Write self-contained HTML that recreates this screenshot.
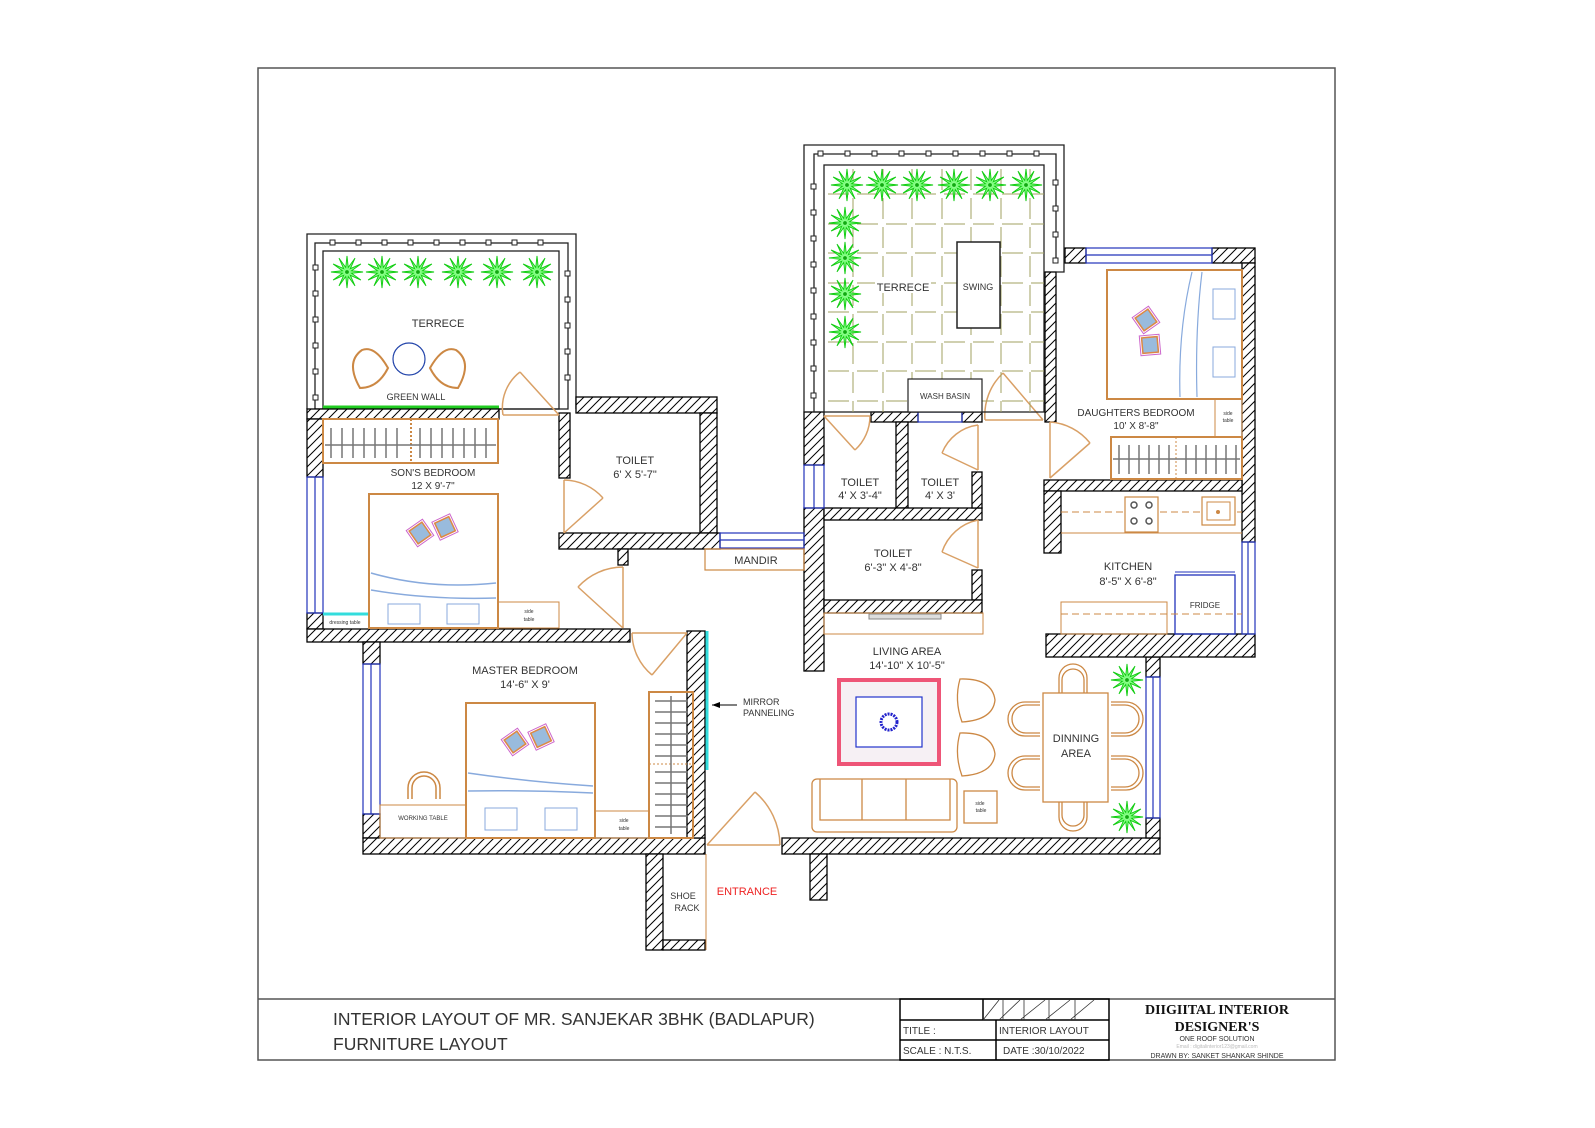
<!DOCTYPE html>
<html><head><meta charset="utf-8"><style>
html,body{margin:0;padding:0;background:#fff;}
svg{display:block;}
text{font-family:"Liberation Sans",sans-serif;fill:#333;}
</style></head><body>
<svg width="1595" height="1128" viewBox="0 0 1595 1128" xmlns="http://www.w3.org/2000/svg">
<defs>
<pattern id="h" patternUnits="userSpaceOnUse" width="9" height="9"><rect width="9" height="9" fill="#fff"/><path d="M-1,10 L10,-1 M-2,2 L2,-2 M7,11 L11,7" stroke="#000" stroke-width="1"/></pattern>
<symbol id="pl" viewBox="-18 -18 36 36" overflow="visible"><polygon points="17,0 4.8,1.3 14.7,8.5 3.5,3.5 8.5,14.7 1.3,4.8 0,17 -1.3,4.8 -8.5,14.7 -3.5,3.5 -14.7,8.5 -4.8,1.3 -17,0 -4.8,-1.3 -14.7,-8.5 -3.5,-3.5 -8.5,-14.7 -1.3,-4.8 0,-17 1.3,-4.8 8.5,-14.7 3.5,-3.5 14.7,-8.5 4.8,-1.3" fill="#8f8" stroke="#1c1" stroke-width="1"/><circle r="2" fill="#1a1"/></symbol>
<g id="pil"><polygon points="0,-14 14,0 0,14 -14,0" fill="none" stroke="#c6c" stroke-width="1"/><polygon points="0,-11 11,0 0,11 -11,0" fill="#9bd" stroke="#d84" stroke-width="1.5"/></g>
</defs>
<g fill="none" stroke="#555" stroke-width="1.5">
<rect x="258" y="68" width="1077" height="992"/>
<line x1="258" y1="999" x2="1335" y2="999"/>
</g>
<g stroke="#000" stroke-width="1.5" fill="none">
<rect x="900" y="999" width="209" height="61"/>
<line x1="900" y1="1020" x2="1109" y2="1020"/><line x1="900" y1="1040" x2="1109" y2="1040"/>
<line x1="996" y1="1020" x2="996" y2="1060"/><line x1="983" y1="999" x2="983" y2="1020"/>
</g>
<g stroke="#333" stroke-width="0.8"><path d="M983,1020 L999,1000 M1003,1000 L1003,1020 M999,1020 L1020,1000 M1024,1000 L1024,1020 M1020,1020 L1045,1000 M1049,1000 L1049,1020 M1045,1020 L1070,1000 M1075,1000 L1075,1020 M1070,1020 L1094,1000"/></g>
<text x="333" y="1025" font-size="17.5">INTERIOR LAYOUT OF MR. SANJEKAR 3BHK (BADLAPUR)</text>
<text x="333" y="1050" font-size="17.5">FURNITURE LAYOUT</text>
<text x="903" y="1034" font-size="10">TITLE :</text>
<text x="999" y="1034" font-size="10">INTERIOR LAYOUT</text>
<text x="903" y="1054" font-size="10">SCALE :  N.T.S.</text>
<text x="1003" y="1054" font-size="10">DATE  :30/10/2022</text>
<text x="1217" y="1014" font-size="14" font-weight="bold" text-anchor="middle" style="font-family:'Liberation Serif',serif;fill:#111">DIIGIITAL INTERIOR</text>
<text x="1217" y="1031" font-size="14" font-weight="bold" text-anchor="middle" style="font-family:'Liberation Serif',serif;fill:#111">DESIGNER'S</text>
<text x="1217" y="1041" font-size="7" text-anchor="middle">ONE ROOF SOLUTION</text>
<text x="1217" y="1048" font-size="5" text-anchor="middle" style="fill:#bbb">Email : digitalinterior123@gmail.com</text>
<text x="1217" y="1058" font-size="7" text-anchor="middle">DRAWN BY: SANKET SHANKAR SHINDE</text>

<g fill="none" stroke="#222" stroke-width="1.3">
<polyline points="307,409 307,234 576,234 576,409"/>
<rect x="315" y="243" width="253" height="166"/>
<rect x="323" y="251" width="236" height="158"/>
</g>
<g fill="#fff" stroke="#222" stroke-width="1">
<rect x="330" y="240" width="5" height="5"/><rect x="356" y="240" width="5" height="5"/><rect x="382" y="240" width="5" height="5"/><rect x="408" y="240" width="5" height="5"/><rect x="434" y="240" width="5" height="5"/><rect x="460" y="240" width="5" height="5"/><rect x="486" y="240" width="5" height="5"/><rect x="512" y="240" width="5" height="5"/><rect x="538" y="240" width="5" height="5"/>
<rect x="313" y="265" width="5" height="5"/><rect x="313" y="291" width="5" height="5"/><rect x="313" y="317" width="5" height="5"/><rect x="313" y="343" width="5" height="5"/><rect x="313" y="369" width="5" height="5"/><rect x="313" y="395" width="5" height="5"/>
<rect x="565" y="271" width="5" height="5"/><rect x="565" y="297" width="5" height="5"/><rect x="565" y="323" width="5" height="5"/><rect x="565" y="349" width="5" height="5"/><rect x="565" y="375" width="5" height="5"/>
</g>
<use href="#pl" x="330" y="255" width="34" height="34"/><use href="#pl" x="365" y="255" width="34" height="34"/><use href="#pl" x="401" y="255" width="34" height="34"/><use href="#pl" x="441" y="255" width="34" height="34"/><use href="#pl" x="480" y="255" width="34" height="34"/><use href="#pl" x="520" y="255" width="34" height="34"/>
<text x="438" y="327" font-size="11" text-anchor="middle">TERRECE</text>
<circle cx="409" cy="359" r="16" fill="none" stroke="#24a" stroke-width="1.2"/>
<path d="M360,388 Q345,362 362,350 Q375,345 388,368 Q378,388 360,388Z" fill="none" stroke="#c84" stroke-width="2"/>
<path d="M458,388 Q473,362 456,350 Q443,345 430,368 Q440,388 458,388Z" fill="none" stroke="#c84" stroke-width="2"/>
<text x="416" y="400" font-size="9" text-anchor="middle">GREEN WALL</text>
<line x1="323" y1="407" x2="499" y2="407" stroke="#2c2" stroke-width="3"/>

<g fill="url(#h)" stroke="#000" stroke-width="1.3">
<rect x="307" y="409" width="192" height="10"/>
<rect x="307" y="419" width="16" height="58"/>
<rect x="307" y="613" width="16" height="16"/>
<rect x="307" y="629" width="323" height="13"/>
<rect x="559" y="413" width="11" height="65"/>
<rect x="576" y="397" width="141" height="16"/>
<rect x="700" y="413" width="17" height="120"/>
<rect x="559" y="533" width="161" height="16"/>
<rect x="618" y="549" width="10" height="16"/>
<rect x="363" y="642" width="17" height="22"/>
<rect x="363" y="814" width="17" height="24"/>
<rect x="363" y="838" width="342" height="16"/>
<rect x="687" y="631" width="18" height="207"/>
<rect x="646" y="854" width="17" height="96"/>
<rect x="663" y="940" width="42" height="10"/>
<rect x="782" y="838" width="378" height="16"/>
<rect x="810" y="854" width="17" height="46"/>
<rect x="1146" y="657" width="14" height="20"/>
<rect x="1146" y="818" width="14" height="20"/>
<rect x="804" y="412" width="20" height="53"/>
<rect x="804" y="508" width="20" height="163"/>
<rect x="1045" y="272" width="11" height="150"/>
<rect x="871" y="412" width="47" height="10"/>
<rect x="962" y="412" width="20" height="10"/>
<rect x="896" y="422" width="12" height="86"/>
<rect x="824" y="508" width="158" height="12"/>
<rect x="972" y="472" width="10" height="36"/>
<rect x="972" y="570" width="10" height="30"/>
<rect x="824" y="600" width="158" height="13"/>
<rect x="1065" y="248" width="21" height="15"/>
<rect x="1212" y="248" width="43" height="15"/>
<rect x="1242" y="263" width="13" height="279"/>
<rect x="1044" y="480" width="198" height="11"/>
<rect x="1044" y="491" width="17" height="62"/>
<rect x="1046" y="634" width="209" height="23"/>
</g>
<g stroke="#23b" stroke-width="1.2" fill="none">
<rect x="307" y="477" width="16" height="136"/><line x1="315" y1="477" x2="315" y2="613"/>
<rect x="363" y="664" width="17" height="150"/><line x1="371" y1="664" x2="371" y2="814"/>
<rect x="720" y="533" width="84" height="15"/><line x1="720" y1="540" x2="804" y2="540"/>
<rect x="804" y="465" width="20" height="43"/><line x1="814" y1="465" x2="814" y2="508"/>
<rect x="918" y="412" width="44" height="10"/>
<rect x="1086" y="248" width="126" height="15"/><line x1="1086" y1="255" x2="1212" y2="255"/>
<rect x="1242" y="542" width="13" height="92"/><line x1="1248" y1="542" x2="1248" y2="634"/>
<rect x="1146" y="677" width="14" height="141"/><line x1="1153" y1="677" x2="1153" y2="818"/>
</g>
<line x1="323" y1="614" x2="369" y2="614" stroke="#3dd" stroke-width="3"/>
<line x1="707" y1="631" x2="707" y2="770" stroke="#3dd" stroke-width="3"/>

<rect x="323" y="419" width="175" height="44" fill="none" stroke="#c84" stroke-width="2"/>
<line x1="411" y1="419" x2="411" y2="463" stroke="#c84" stroke-width="2" stroke-dasharray="2 2"/>
<g stroke="#777" stroke-width="1.5"><path d="M331,428V458M342,428V458M353,428V458M364,428V458M375,428V458M386,428V458M397,428V458M420,428V458M431,428V458M442,428V458M453,428V458M464,428V458M475,428V458M486,428V458M325,445H496"/></g>
<text x="433" y="476" font-size="10" text-anchor="middle">SON'S BEDROOM</text>
<text x="433" y="489" font-size="10" text-anchor="middle">12 X 9'-7"</text>
<rect x="369" y="494" width="129" height="134" fill="none" stroke="#c84" stroke-width="2"/>
<path d="M371,573 Q430,590 496,583 M371,590 Q430,600 496,598" stroke="#8ad" fill="none" stroke-width="1.5"/>
<rect x="388" y="604" width="32" height="20" fill="none" stroke="#8ad"/><rect x="447" y="604" width="32" height="20" fill="none" stroke="#8ad"/>
<use href="#pil" transform="translate(420,533) rotate(10)"/><use href="#pil" transform="translate(445,527) rotate(20)"/>
<rect x="498" y="602" width="61" height="26" fill="none" stroke="#c84"/>
<text x="529" y="613" font-size="5" text-anchor="middle">side</text><text x="529" y="621" font-size="5" text-anchor="middle">table</text>
<text x="345" y="624" font-size="5" text-anchor="middle">dressing table</text>

<text x="635" y="464" font-size="11" text-anchor="middle">TOILET</text>
<text x="635" y="478" font-size="11" text-anchor="middle">6' X 5'-7"</text>
<text x="756" y="564" font-size="11" text-anchor="middle">MANDIR</text>
<rect x="705" y="549" width="99" height="21" fill="none" stroke="#c84" stroke-width="1.2"/>

<g stroke="#d9a066" stroke-width="1.5" fill="none">
<path d="M503,415 H559 M559,415 L520,372 M520,372 A45,45 0 0 0 503,415"/>
<path d="M564,533 V480 M564,533 L603,498 M603,498 A53,53 0 0 0 564,480"/>
<path d="M623,628 V567 M623,628 L578,587 M578,587 A61,61 0 0 1 623,567"/>
<path d="M632,633 H687 M687,633 L652,675 M652,675 A55,55 0 0 1 632,633"/>
<path d="M707,845 H780 M707,845 L755,792 M755,792 A72,72 0 0 1 780,845"/>
<path d="M824,416 H870 M824,416 L855,450 M855,450 A46,46 0 0 0 870,416"/>
<path d="M978,470 V425 M978,470 L942,453 M942,453 A45,45 0 0 1 978,425"/>
<path d="M978,568 V520 M978,568 L942,552 M942,552 A48,48 0 0 1 978,520"/>
<path d="M985,420 H1043 M1043,420 L1003,373 M1003,373 A58,58 0 0 0 985,420"/>
<path d="M1050,478 V422 M1050,478 L1090,443 M1090,443 A56,56 0 0 0 1050,422"/>
</g>

<text x="525" y="674" font-size="11" text-anchor="middle">MASTER BEDROOM</text>
<text x="525" y="688" font-size="11" text-anchor="middle">14'-6" X 9'</text>
<rect x="466" y="703" width="129" height="135" fill="none" stroke="#c84" stroke-width="2"/>
<path d="M468,773 Q530,782 593,786 M468,791 Q530,790 593,793" stroke="#8ad" fill="none" stroke-width="1.5"/>
<rect x="485" y="808" width="32" height="22" fill="none" stroke="#8ad"/><rect x="545" y="808" width="32" height="22" fill="none" stroke="#8ad"/>
<use href="#pil" transform="translate(515,742) rotate(10)"/><use href="#pil" transform="translate(541,737) rotate(20)"/>
<rect x="380" y="805" width="86" height="33" fill="none" stroke="#c84"/>
<text x="423" y="820" font-size="6" text-anchor="middle">WORKING TABLE</text>
<path d="M408,799 V788 A16,16 0 0 1 440,788 V799 M412,799 V788 A12,12 0 0 1 436,788 V799" stroke="#c84" fill="none" stroke-width="1.5"/>
<rect x="595" y="811" width="54" height="27" fill="none" stroke="#c84"/>
<text x="624" y="822" font-size="5" text-anchor="middle">side</text><text x="624" y="830" font-size="5" text-anchor="middle">table</text>
<rect x="649" y="692" width="44" height="146" fill="none" stroke="#c84" stroke-width="2"/>
<line x1="649" y1="764" x2="693" y2="764" stroke="#c84" stroke-dasharray="2 2"/>
<g stroke="#777" stroke-width="1.5"><path d="M671,696V834M655,701H688M655,712H688M655,723H688M655,734H688M655,745H688M655,756H688M655,772H688M655,783H688M655,794H688M655,805H688M655,816H688M655,827H688"/></g>
<text x="743" y="705" font-size="9">MIRROR</text><text x="743" y="716" font-size="9">PANNELING</text>
<path d="M712,705 H737" stroke="#000" stroke-width="1"/><polygon points="712,705 720,702 720,708" fill="#000"/>
<text x="683" y="899" font-size="9" text-anchor="middle">SHOE</text><text x="687" y="911" font-size="9" text-anchor="middle">RACK</text>
<line x1="706" y1="854" x2="706" y2="950" stroke="#c84"/>
<text x="747" y="895" font-size="11" text-anchor="middle" style="fill:#e22">ENTRANCE</text>

<g fill="none" stroke="#222" stroke-width="1.3">
<polyline points="804,412 804,145 1064,145 1064,272 1056,272"/>
<polyline points="814,412 814,154 1056,154 1056,262"/>
<rect x="824" y="165" width="220" height="247"/>
</g>
<g stroke="#a0a060" stroke-width="1" stroke-dasharray="21 8" stroke-dashoffset="-4">
<path d="M853,165V412M883,165V412M912,165V412M942,165V412M971,165V412M1001,165V412M1030,165V412"/>
<path d="M824,194H1044M824,224H1044M824,253H1044M824,283H1044M824,312H1044M824,342H1044M824,371H1044M824,401H1044"/>
</g>
<g fill="#fff" stroke="#222" stroke-width="1">
<rect x="818" y="151" width="5" height="5"/><rect x="845" y="151" width="5" height="5"/><rect x="872" y="151" width="5" height="5"/><rect x="899" y="151" width="5" height="5"/><rect x="926" y="151" width="5" height="5"/><rect x="953" y="151" width="5" height="5"/><rect x="980" y="151" width="5" height="5"/><rect x="1007" y="151" width="5" height="5"/><rect x="1034" y="151" width="5" height="5"/>
<rect x="811" y="184" width="5" height="5"/><rect x="811" y="210" width="5" height="5"/><rect x="811" y="236" width="5" height="5"/><rect x="811" y="262" width="5" height="5"/><rect x="811" y="288" width="5" height="5"/><rect x="811" y="314" width="5" height="5"/><rect x="811" y="340" width="5" height="5"/><rect x="811" y="366" width="5" height="5"/><rect x="811" y="393" width="5" height="5"/>
<rect x="1053" y="180" width="5" height="5"/><rect x="1053" y="206" width="5" height="5"/><rect x="1053" y="232" width="5" height="5"/><rect x="1053" y="258" width="5" height="5"/>
</g>
<use href="#pl" x="830" y="168" width="34" height="34"/><use href="#pl" x="865" y="168" width="34" height="34"/><use href="#pl" x="900" y="168" width="34" height="34"/><use href="#pl" x="937" y="168" width="34" height="34"/><use href="#pl" x="973" y="168" width="34" height="34"/><use href="#pl" x="1009" y="168" width="34" height="34"/>
<use href="#pl" x="828" y="206" width="34" height="34"/><use href="#pl" x="828" y="241" width="34" height="34"/><use href="#pl" x="828" y="277" width="34" height="34"/><use href="#pl" x="828" y="315" width="34" height="34"/>
<rect x="957" y="242" width="43" height="86" fill="#fff" stroke="#222" stroke-width="1.5"/>
<text x="978" y="290" font-size="9" text-anchor="middle">SWING</text>
<rect x="875" y="281" width="56" height="12" fill="#fff"/>
<text x="903" y="291" font-size="11" text-anchor="middle">TERRECE</text>
<rect x="908" y="379" width="74" height="33" fill="#fff" stroke="#222" stroke-width="1.2"/>
<text x="945" y="399" font-size="8" text-anchor="middle">WASH BASIN</text>

<text x="860" y="486" font-size="11" text-anchor="middle">TOILET</text><text x="860" y="499" font-size="11" text-anchor="middle">4' X 3'-4"</text>
<text x="940" y="486" font-size="11" text-anchor="middle">TOILET</text><text x="940" y="499" font-size="11" text-anchor="middle">4' X 3'</text>
<text x="893" y="557" font-size="11" text-anchor="middle">TOILET</text><text x="893" y="571" font-size="11" text-anchor="middle">6'-3" X 4'-8"</text>

<rect x="1107" y="270" width="135" height="129" fill="none" stroke="#c84" stroke-width="2"/>
<path d="M1192,272 Q1178,330 1180,397 M1202,272 Q1195,330 1197,397" stroke="#8ad" fill="none" stroke-width="1.2"/>
<rect x="1213" y="289" width="22" height="30" fill="none" stroke="#8ad"/><rect x="1213" y="347" width="22" height="30" fill="none" stroke="#8ad"/>
<use href="#pil" transform="translate(1146,320) rotate(10)"/><use href="#pil" transform="translate(1150,345) rotate(40)"/>
<rect x="1215" y="399" width="27" height="38" fill="none" stroke="#c84"/>
<text x="1228" y="415" font-size="5" text-anchor="middle">side</text><text x="1228" y="422" font-size="5" text-anchor="middle">table</text>
<text x="1136" y="416" font-size="10" text-anchor="middle">DAUGHTERS BEDROOM</text>
<text x="1136" y="429" font-size="10" text-anchor="middle">10' X 8'-8"</text>
<rect x="1111" y="437" width="131" height="42" fill="none" stroke="#c84" stroke-width="2"/>
<line x1="1176" y1="437" x2="1176" y2="479" stroke="#c84" stroke-dasharray="2 2"/>
<g stroke="#777" stroke-width="1.5"><path d="M1119,445V474M1129,445V474M1139,445V474M1149,445V474M1159,445V474M1169,445V474M1186,445V474M1196,445V474M1206,445V474M1216,445V474M1226,445V474M1236,445V474M1113,459H1240"/></g>

<line x1="1061" y1="533" x2="1242" y2="533" stroke="#c84"/>
<line x1="1061" y1="512" x2="1242" y2="512" stroke="#c84" stroke-dasharray="7 4"/>
<rect x="1125" y="497" width="33" height="35" fill="#fff" stroke="#c84" stroke-width="1.2"/>
<g fill="none" stroke="#555" stroke-width="1.5"><circle cx="1134" cy="505" r="3"/><circle cx="1149" cy="505" r="3"/><circle cx="1134" cy="521" r="3"/><circle cx="1149" cy="521" r="3"/></g>
<rect x="1202" y="497" width="33" height="28" fill="#fff" stroke="#c84" stroke-width="1.2"/>
<rect x="1207" y="502" width="23" height="18" fill="none" stroke="#c84"/><circle cx="1218" cy="512" r="2" fill="#c84"/>
<text x="1128" y="570" font-size="11" text-anchor="middle">KITCHEN</text>
<text x="1128" y="585" font-size="11" text-anchor="middle">8'-5" X 6'-8"</text>
<rect x="1175" y="575" width="60" height="59" fill="none" stroke="#23b" stroke-width="1.3"/>
<line x1="1175" y1="572" x2="1235" y2="572" stroke="#23b"/>
<text x="1205" y="608" font-size="8" text-anchor="middle">FRIDGE</text>
<rect x="1061" y="602" width="106" height="32" fill="none" stroke="#c84"/>
<line x1="1061" y1="614" x2="1242" y2="614" stroke="#c84" stroke-dasharray="7 4"/>

<rect x="824" y="613" width="159" height="21" fill="none" stroke="#c84"/>
<rect x="869" y="614" width="72" height="5" fill="#ddd" stroke="#888"/>
<text x="907" y="655" font-size="11" text-anchor="middle">LIVING AREA</text>
<text x="907" y="669" font-size="11" text-anchor="middle">14'-10" X 10'-5"</text>
<rect x="839" y="680" width="100" height="84" fill="#f6f0f4" stroke="#e57" stroke-width="4"/>
<rect x="856" y="697" width="66" height="50" fill="#fff" stroke="#23c" stroke-width="1.2"/>
<circle cx="889" cy="722" r="8" fill="none" stroke="#22c" stroke-width="3" stroke-dasharray="2 1"/>
<g fill="none" stroke="#c84" stroke-width="1.3">
<path d="M960,679 Q992,678 995,700 Q993,720 962,722 Q954,700 960,679Z"/>
<path d="M960,733 Q992,732 995,754 Q993,774 962,776 Q954,754 960,733Z"/>
<rect x="812" y="779" width="145" height="53" rx="5"/><path d="M820,779V820H950V779M862,779V820M906,779V820"/>
<rect x="964" y="791" width="33" height="32"/>
<rect x="1043" y="693" width="65" height="109"/>
<path d="M1059,693 V678 A14,14 0 0 1 1087,678 V693 M1062,693 V680 A11,11 0 0 1 1084,680 V693"/>
<path d="M1059,802 V817 A14,14 0 0 0 1087,817 V802 M1062,802 V815 A11,11 0 0 0 1084,815 V802"/>
<path d="M1040,702 H1025 A15,15 0 0 0 1025,736 H1040 M1040,705 H1026 A12,12 0 0 0 1026,733 H1040"/>
<path d="M1040,756 H1025 A15,15 0 0 0 1025,790 H1040 M1040,759 H1026 A12,12 0 0 0 1026,787 H1040"/>
<path d="M1111,702 H1126 A15,15 0 0 1 1126,736 H1111 M1111,705 H1125 A12,12 0 0 1 1125,733 H1111"/>
<path d="M1111,756 H1126 A15,15 0 0 1 1126,790 H1111 M1111,759 H1125 A12,12 0 0 1 1125,787 H1111"/>
</g>
<text x="980" y="805" font-size="5" text-anchor="middle">side</text><text x="981" y="812" font-size="5" text-anchor="middle">table</text>
<text x="1076" y="742" font-size="11" text-anchor="middle">DINNING</text>
<text x="1076" y="757" font-size="11" text-anchor="middle">AREA</text>
<use href="#pl" x="1110" y="663" width="34" height="34"/><use href="#pl" x="1110" y="800" width="34" height="34"/>
</svg>
</body></html>
